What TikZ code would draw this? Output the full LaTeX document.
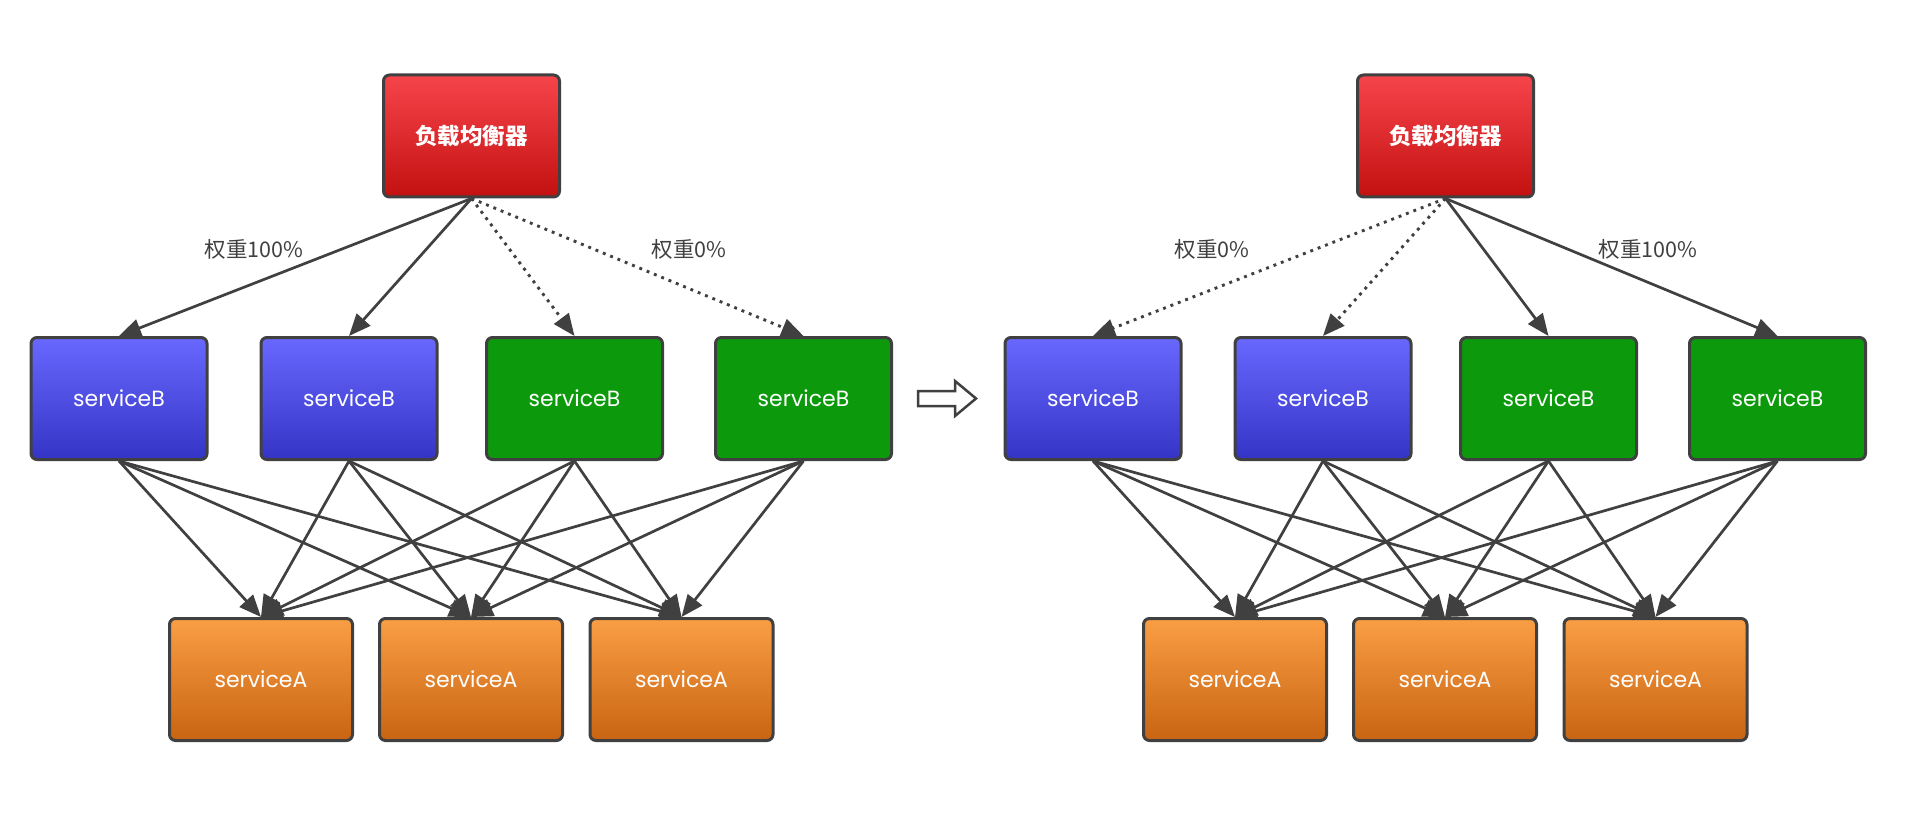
\documentclass[tikz,border=0pt]{standalone}
\usepackage{fontspec}
\setmainfont{Poppins}
\newfontfamily\cjk{Noto Sans CJK SC}
\usetikzlibrary{arrows.meta}
\definecolor{edgec}{HTML}{404040}
\definecolor{redT}{HTML}{F6444B}
\definecolor{redB}{HTML}{C31111}
\definecolor{bluT}{HTML}{6868FF}
\definecolor{bluB}{HTML}{3434C6}
\definecolor{grn}{HTML}{0C9A0C}
\definecolor{orT}{HTML}{FA9E44}
\definecolor{orB}{HTML}{C86412}
\tikzset{
  box/.style={draw=edgec, line width=3pt, rounded corners=6pt, minimum width=176pt, minimum height=122pt, inner sep=0pt, text=white, font=\fontsize{22}{26}\selectfont},
  lbbox/.style={box, top color=redT, bottom color=redB, font=\cjk\bfseries\fontsize{22.5}{26}\selectfont},
  bbox/.style={box, top color=bluT, bottom color=bluB},
  gbox/.style={box, fill=grn},
  abox/.style={box, minimum width=183pt, top color=orT, bottom color=orB},
  conn/.style={draw=edgec, line width=2.7pt, -{Triangle[length=22pt,width=18pt]}},
  dconn/.style={conn, line width=2.9pt, dash pattern=on 2.9pt off 5pt},
  wlabel/.style={text=edgec, font=\cjk\fontsize{21.5}{24}\selectfont}
}
\begin{document}
\begin{tikzpicture}[x=1pt,y=-1pt]
\useasboundingbox (0,0) rectangle (1920,813);
% left
\node[lbbox] (lb) at (471.5,136) {负载均衡器};
\node[bbox] (b1) at (119,398.5) {serviceB};
\node[bbox] (b2) at (349,398.5) {serviceB};
\node[gbox] (b3) at (574.5,398.5) {serviceB};
\node[gbox] (b4) at (803.5,398.5) {serviceB};
\node[abox] (a1) at (261,679.5) {serviceA};
\node[abox] (a2) at (471,679.5) {serviceA};
\node[abox] (a3) at (681.5,679.5) {serviceA};
\draw[conn] (lb.south) -- (b1.north);
\draw[conn] (lb.south) -- (b2.north);
\draw[dconn] (lb.south) -- (b3.north);
\draw[dconn] (lb.south) -- (b4.north);
\foreach \b in {b1,b2,b3,b4}{\foreach \a in {a1,a2,a3}{\draw[conn] (\b.south) -- (\a.north);}}
\node[wlabel] (l1) at (254,249) {权重100\%};
\node[wlabel] (l2) at (689,249) {权重0\%};
% right
\node[lbbox] (rlb) at (1445.5,136) {负载均衡器};
\node[bbox] (rb1) at (1093,398.5) {serviceB};
\node[bbox] (rb2) at (1323,398.5) {serviceB};
\node[gbox] (rb3) at (1548.5,398.5) {serviceB};
\node[gbox] (rb4) at (1777.5,398.5) {serviceB};
\node[abox] (ra1) at (1235,679.5) {serviceA};
\node[abox] (ra2) at (1445,679.5) {serviceA};
\node[abox] (ra3) at (1655.5,679.5) {serviceA};
\draw[dconn] (rlb.south) -- (rb1.north);
\draw[dconn] (rlb.south) -- (rb2.north);
\draw[conn] (rlb.south) -- (rb3.north);
\draw[conn] (rlb.south) -- (rb4.north);
\foreach \b in {rb1,rb2,rb3,rb4}{\foreach \a in {ra1,ra2,ra3}{\draw[conn] (\b.south) -- (\a.north);}}
\node[wlabel] (rl1) at (1212,249) {权重0\%};
\node[wlabel] (rl2) at (1648,249) {权重100\%};
% transition arrow
\draw[draw=edgec, line width=2.5pt, fill=white, line join=miter]
  (918,391) -- (955,391) -- (955,381) -- (976,398.5) -- (955,416) -- (955,406) -- (918,406) -- cycle;
\end{tikzpicture}
\end{document}
